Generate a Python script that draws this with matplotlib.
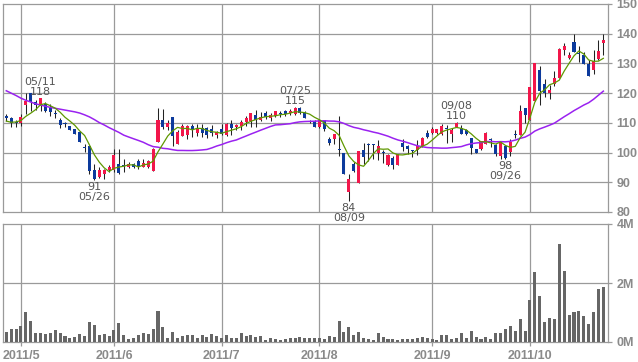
import numpy as np
import matplotlib
matplotlib.use("Agg")
import matplotlib.pyplot as plt
from matplotlib.ticker import FixedLocator, FuncFormatter

# ---------------- data (daily, 2011/04/26 - 2011/10/25) ----------------
opens = [111.9, 111.8, 110.1, 110.0, 116.0, 120.0, 117.0, 116.0, 116.3, 115.0,
         113.1, 110.9, 109.8, 109.0, 108.0, 107.0, 101.7, 102.1, 94.0, 91.7,
         92.8, 94.1, 94.0, 96.3, 95.6, 95.2, 96.3, 97.0, 95.1, 95.1,
         93.8, 103.5, 111.0, 108.7, 112.1, 103.0, 105.6, 105.8, 109.0, 106.7,
         108.2, 108.2, 108.1, 105.8, 108.1, 105.8, 109.5, 108.5, 108.9, 110.3,
         110.6, 112.6, 111.0, 113.2, 111.8, 112.3, 113.2, 114.0, 113.3, 112.9,
         114.9, 113.8, 110.5, 110.4, 108.7, 110.9, 104.7, 104.6, 101.1, 100.0,
         86.8, 96.2, 89.8, 100.8, 103.0, 102.9, 100.0, 99.8, 95.9, 98.3,
         95.9, 103.3, 102.2, 100.6, 100.8, 102.2, 106.7, 106.5, 106.5, 106.1,
         108.3, 106.4, 108.7, 108.2, 107.5, 104.8, 101.1, 101.1, 102.8, 104.2,
         102.5, 98.8, 102.2, 100.2, 106.0, 106.0, 115.0, 111.0, 117.2, 127.8,
         123.1, 119.9, 123.1, 125.1, 134.6, 131.9, 137.2, 133.3, 133.0, 129.9,
         127.8, 131.6, 136.8]
highs = [113.1, 112.0, 110.9, 113.1, 120.0, 120.0, 117.6, 118.2, 117.0, 116.2,
         114.3, 111.8, 110.2, 109.1, 108.1, 107.1, 103.0, 102.1, 96.0, 95.0,
         94.5, 95.9, 101.1, 101.1, 98.0, 96.8, 96.5, 98.0, 98.0, 97.5,
         101.5, 115.1, 114.6, 111.0, 112.1, 107.5, 109.6, 109.2, 109.5, 109.5,
         109.5, 108.5, 109.2, 107.4, 109.6, 110.0, 111.0, 109.5, 110.9, 112.2,
         113.2, 114.4, 113.8, 114.0, 113.3, 114.1, 114.1, 114.2, 114.6, 115.3,
         115.2, 114.0, 111.0, 111.0, 111.3, 111.0, 105.3, 106.1, 112.3, 100.0,
         92.9, 96.8, 100.5, 103.1, 103.1, 103.0, 104.2, 101.0, 99.5, 99.0,
         99.6, 104.5, 102.5, 101.0, 104.3, 105.2, 107.7, 108.5, 107.8, 109.5,
         109.3, 108.3, 110.3, 109.4, 108.0, 105.0, 101.1, 104.0, 107.0, 105.0,
         103.0, 103.6, 102.3, 104.6, 107.6, 116.1, 115.0, 122.2, 130.0, 129.3,
         124.6, 122.9, 127.4, 135.3, 136.8, 134.0, 140.0, 136.0, 134.0, 131.0,
         134.4, 138.0, 140.0]
lows = [110.6, 108.7, 108.7, 108.8, 112.9, 114.0, 114.3, 114.0, 113.6, 112.4,
        111.6, 108.4, 108.6, 107.5, 106.1, 103.5, 100.3, 92.8, 90.8, 91.5,
        91.2, 93.5, 93.6, 92.8, 93.5, 94.8, 94.8, 94.6, 95.0, 94.9,
        93.8, 103.5, 107.8, 107.5, 102.2, 103.0, 105.6, 104.7, 105.3, 105.6,
        105.3, 105.0, 105.6, 104.8, 105.8, 105.6, 106.0, 107.5, 107.7, 108.8,
        108.5, 108.5, 110.5, 111.3, 110.7, 112.0, 112.0, 112.3, 112.6, 112.6,
        113.0, 111.5, 109.8, 108.7, 108.3, 107.4, 102.7, 102.8, 98.7, 92.8,
        83.8, 93.3, 89.8, 96.1, 97.0, 98.0, 97.5, 96.5, 95.5, 94.5,
        95.9, 100.5, 99.4, 98.4, 99.3, 102.0, 105.0, 106.2, 106.2, 106.0,
        103.3, 103.5, 108.5, 106.2, 105.8, 99.4, 100.0, 101.0, 102.8, 102.0,
        99.0, 97.7, 98.0, 99.0, 104.8, 106.0, 110.1, 111.0, 117.2, 116.1,
        118.6, 118.0, 122.5, 125.1, 132.7, 131.5, 133.8, 130.6, 129.9, 125.9,
        126.5, 131.0, 132.7]
closes = [111.8, 110.0, 110.0, 112.0, 117.2, 117.1, 116.0, 118.2, 114.0, 113.5,
          113.0, 109.2, 109.7, 107.6, 106.4, 103.5, 101.6, 93.7, 91.0, 94.1,
          94.0, 95.2, 99.2, 93.1, 95.5, 96.3, 95.2, 95.6, 96.6, 97.0,
          101.1, 111.0, 108.7, 110.1, 105.6, 107.0, 109.0, 109.0, 107.6, 108.2,
          106.7, 105.8, 106.7, 106.8, 106.4, 109.5, 108.2, 109.2, 110.3, 111.8,
          113.2, 111.1, 112.1, 112.1, 112.6, 114.0, 112.9, 112.9, 114.0, 115.0,
          113.4, 111.8, 110.4, 108.7, 110.9, 107.8, 103.3, 106.1, 101.0, 92.8,
          91.2, 93.8, 100.5, 98.6, 102.6, 102.5, 102.2, 99.7, 99.1, 95.9,
          99.4, 101.9, 101.1, 100.5, 102.2, 105.0, 105.3, 107.8, 107.8, 109.0,
          108.0, 107.5, 110.0, 106.2, 106.2, 101.6, 100.0, 103.9, 106.7, 104.1,
          99.6, 103.5, 98.1, 103.4, 105.9, 114.1, 112.7, 122.2, 130.0, 120.8,
          119.9, 121.2, 125.1, 134.9, 136.0, 133.0, 133.8, 133.2, 129.9, 125.9,
          130.7, 134.1, 138.0]
volumes_m = [0.35, 0.45, 0.45, 0.55, 1.02, 0.72, 0.31, 0.31, 0.28, 0.31,
             0.42, 0.31, 0.21, 0.15, 0.18, 0.28, 0.21, 0.69, 0.58, 0.25,
             0.28, 0.21, 0.42, 0.65, 0.25, 0.11, 0.15, 0.25, 0.31, 0.28,
             0.45, 1.06, 0.52, 0.15, 0.35, 0.15, 0.21, 0.25, 0.25, 0.15,
             0.25, 0.18, 0.28, 0.21, 0.15, 0.25, 0.15, 0.15, 0.31, 0.21,
             0.25, 0.18, 0.21, 0.08, 0.15, 0.11, 0.08, 0.11, 0.15, 0.15,
             0.18, 0.15, 0.15, 0.15, 0.15, 0.11, 0.21, 0.18, 0.72, 0.35,
             0.52, 0.25, 0.35, 0.15, 0.11, 0.08, 0.31, 0.18, 0.11, 0.11,
             0.08, 0.11, 0.11, 0.11, 0.15, 0.18, 0.15, 0.11, 0.08, 0.25,
             0.25, 0.11, 0.15, 0.31, 0.15, 0.38, 0.18, 0.11, 0.18, 0.11,
             0.31, 0.31, 0.45, 0.55, 0.38, 0.79, 0.38, 1.43, 2.37, 1.56,
             0.69, 0.82, 0.79, 3.31, 2.40, 0.92, 1.02, 1.06, 0.89, 0.62,
             1.02, 1.80, 1.87]
# moving averages before enough history is visible
ma5_head = [110.6, 110.2, 110.3, 110.8]
ma25_head = [120.8, 120.0, 119.2, 118.3, 117.6, 117.0, 116.4, 116.0, 115.6, 115.2,
             114.9, 114.6, 114.3, 114.0, 113.7, 113.3, 112.7, 112.0, 111.1, 110.1,
             109.3, 108.4, 107.6, 106.8]
month_idx = [3, 22, 44, 64, 87, 107]
month_labels = ["2011/5", "2011/6", "2011/7", "2011/8", "2011/9", "2011/10"]
high_marks = [(7, "05/11"), (59, "07/25"), (92, "09/08")]
low_marks = [(18, "05/26"), (70, "08/09"), (102, "09/26")]

# ---------------- derived ----------------
o = np.array(opens); h = np.array(highs); l = np.array(lows); c = np.array(closes)
x = np.arange(len(c))
ma5 = np.concatenate([ma5_head, np.convolve(c, np.ones(5) / 5, mode="valid")])
ma25 = np.concatenate([ma25_head, np.convolve(c, np.ones(25) / 25, mode="valid")])

RED = "#f2164a"
BLUE = "#0c3a9c"
GRID = "#9a9a9a"
TXT = "#8a8a8a"
TICKFONT = dict(family="Liberation Sans", weight="bold", size=9)

W, H = 638, 362
fig = plt.figure(figsize=(W / 100, H / 100), dpi=100)
fig.patch.set_facecolor("white")

def rect(l_, t_, r_, b_):
    return [l_ / W, 1 - b_ / H, (r_ - l_) / W, (b_ - t_) / H]

ax = fig.add_axes(rect(3, 4, 608, 212))
axv = fig.add_axes(rect(3, 224, 608, 342))

xlim = (-0.67, 122.95)
for a in (ax, axv):
    a.set_xlim(*xlim)
    for s in a.spines.values():
        s.set_color(GRID)
        s.set_linewidth(0.9)
    a.yaxis.tick_right()
    a.tick_params(axis="y", length=3, width=0.9, color=GRID, pad=3,
                  labelcolor=TXT)
    a.tick_params(axis="x", length=3, width=0.9, color=GRID)
    a.xaxis.set_major_locator(FixedLocator(month_idx))
    for v in month_idx:
        a.axvline(v, color=GRID, lw=0.9, zorder=0)

# price panel
ax.set_ylim(80, 150)
ax.yaxis.set_major_locator(FixedLocator(range(80, 151, 10)))
for v in range(90, 150, 10):
    ax.axhline(v, color=GRID, lw=0.9, zorder=0)
ax.set_xticklabels([])
ax.tick_params(axis="x", length=0)
for t in ax.get_yticklabels():
    t.set_fontproperties(TICKFONT)

up = c > o
colors = np.where(up, RED, BLUE)
ax.vlines(x, l, h, color="#222222", lw=0.75, zorder=2)
body_bot = np.minimum(o, c)
body_h = np.maximum(np.abs(c - o), 0.35)
ax.bar(x, body_h, bottom=body_bot, width=0.62, color=colors, linewidth=0, zorder=3)
ax.plot(x, ma25, color="#9a22f0", lw=1.1, zorder=4)
ax.plot(x, ma5, color="#5f9800", lw=0.9, zorder=4)

LAB = "#555555"
for i, d in high_marks:
    ax.annotate(f"{h[i]:.0f}", (i, h[i]), xytext=(0, 2.3), textcoords="offset points",
                ha="center", va="baseline", fontsize=8, color=LAB, annotation_clip=False)
    ax.annotate(d, (i, h[i]), xytext=(0, 9.5), textcoords="offset points",
                ha="center", va="baseline", fontsize=8, color=LAB, annotation_clip=False)
for i, d in low_marks:
    ax.annotate(f"{l[i]:.0f}", (i, l[i]), xytext=(0, -7.5), textcoords="offset points",
                ha="center", va="baseline", fontsize=8, color=LAB, annotation_clip=False)
    ax.annotate(d, (i, l[i]), xytext=(0, -14.5), textcoords="offset points",
                ha="center", va="baseline", fontsize=8, color=LAB, annotation_clip=False)

# volume panel
axv.set_ylim(0, 4e6)
axv.yaxis.set_major_locator(FixedLocator([0, 2e6, 4e6]))
axv.yaxis.set_major_formatter(FuncFormatter(lambda v, p: f"{v / 1e6:.0f}M"))
axv.axhline(2e6, color=GRID, lw=0.9, zorder=0)
axv.bar(x, np.array(volumes_m) * 1e6, width=0.62, color="#666666", linewidth=0, zorder=3)
axv.set_xticklabels(month_labels)
axv.tick_params(axis="x", labelcolor=TXT, pad=3)
for t in axv.get_yticklabels() + axv.get_xticklabels():
    t.set_fontproperties(TICKFONT)

fig.savefig("out.png", dpi=100, facecolor="white")
